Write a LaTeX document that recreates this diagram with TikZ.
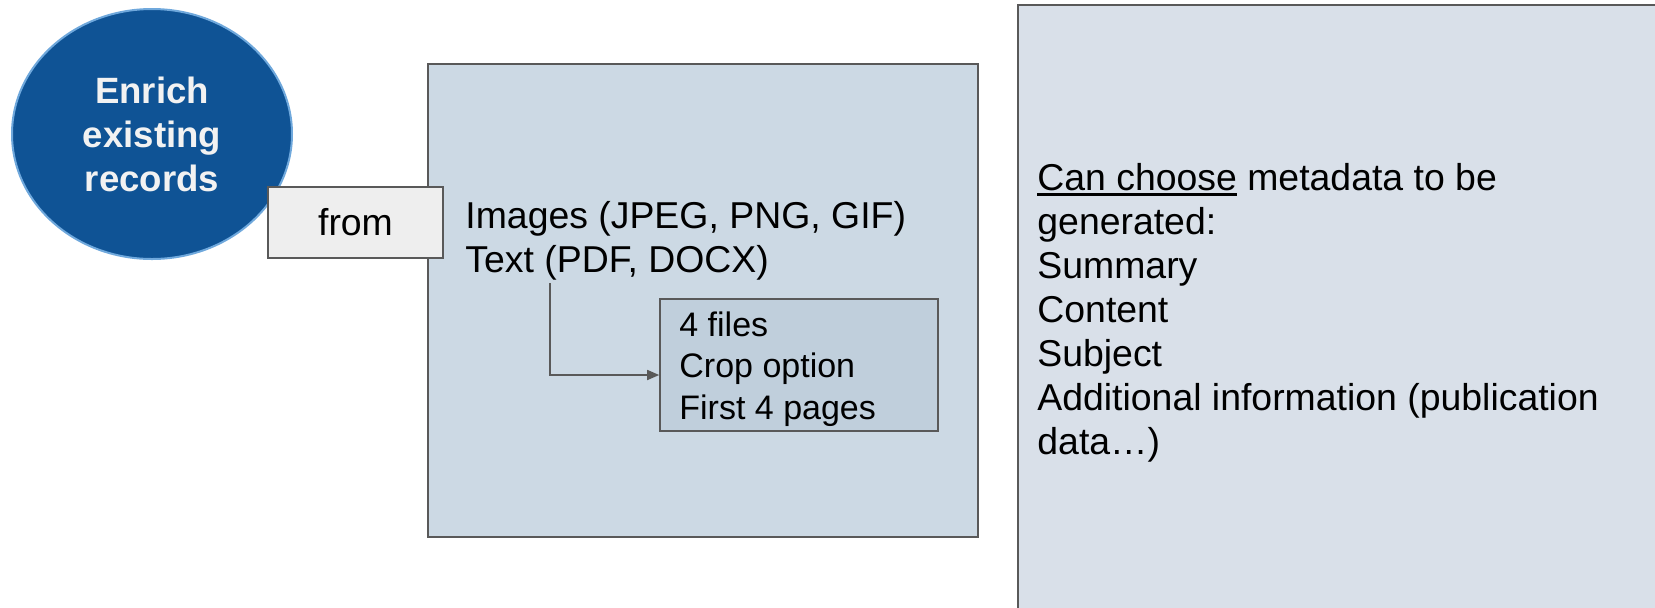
\documentclass[tikz,border=0pt]{standalone}
\usepackage{fontspec}
\setmainfont{Liberation Sans}
\newcommand{\thickul}[1]{\setbox0\hbox{#1}\rlap{\rule[-2.8pt]{\wd0}{1.3pt}}\box0\relax}
\usetikzlibrary{arrows.meta,shapes.geometric}
\definecolor{circfill}{HTML}{0F5395}
\definecolor{circedge}{HTML}{6FA8DC}
\definecolor{edgegray}{HTML}{595959}
\definecolor{midfill}{HTML}{CCD9E4}
\definecolor{innerfill}{HTML}{C0CFDC}
\definecolor{rightfill}{HTML}{D9E0E9}
\definecolor{fromfill}{HTML}{EEEEEE}
\definecolor{textwhite}{HTML}{F2F2F2}
\tikzset{
  x=0.5pt, y=-0.5pt,
  panel/.style={draw=edgegray, line width=0.8pt},
  bodytext/.style={font=\fontsize{18.7}{22}\selectfont, inner sep=0pt, align=left},
  smalltext/.style={font=\fontsize{17}{20.75}\selectfont, inner sep=0pt, align=left},
  arr/.style={draw=edgegray, line width=0.8pt, -{Triangle[length=6pt,width=5pt]}}
}
\begin{document}
\begin{tikzpicture}
\clip (0,0) rectangle (1655,607);
\fill[white] (0,0) rectangle (1655,607);
% circle
\node[ellipse, draw=circedge, line width=1pt, fill=circfill, minimum width=140pt, minimum height=125pt, inner sep=0pt,
      font=\bfseries\fontsize{18.3}{22}\selectfont, text=textwhite, align=center] (enrich) at (152,134) {Enrich\\existing\\records};
% middle box
\draw[panel, fill=midfill] (428,64) rectangle (978,537);
\node[bodytext, anchor=base west] (types) at (465,272) {Images (JPEG, PNG, GIF)\\Text (PDF, DOCX)};
% from box
\node[panel, fill=fromfill, minimum width=87.5pt, minimum height=35.5pt, inner sep=0pt, font=\fontsize{18.7}{22}\selectfont] (from) at (355.5,222.5) {from};
% inner box
\node[panel, fill=innerfill, minimum width=139pt, minimum height=66pt, inner sep=0pt] (inner) at (799,365) {};
\node[smalltext, anchor=base west] (opts) at (679,419) {4 files\\Crop option\\First 4 pages};
% arrow
\coordinate (a0) at (550,283);
\draw[arr] (a0) |- ([yshift=-5pt]inner.west);
% right box
\draw[panel, fill=rightfill] (1018,5) rectangle (1680,640);
\node[bodytext, anchor=base west] (meta) at (1037,454) {\thickul{Can choose} metadata to be\\generated:\\Summary\\Content\\Subject\\Additional information (publication\\data\ldots)};
\end{tikzpicture}
\end{document}
